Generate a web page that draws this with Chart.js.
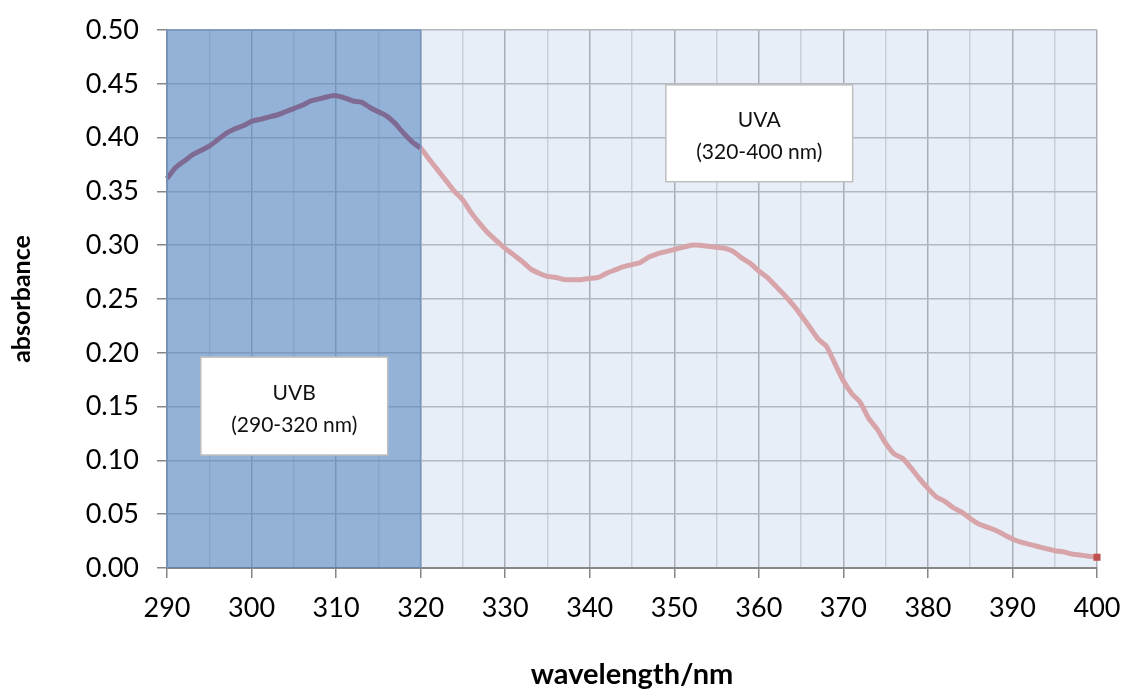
<!DOCTYPE html>
<html>
<head>
<meta charset="utf-8">
<script src="https://cdn.jsdelivr.net/npm/chart.js@4.4.1/dist/chart.umd.min.js"></script>
<style>
  html, body { margin: 0; padding: 0; background: #ffffff; }
  #wrap { width: 1125px; height: 689px; }
</style>
</head>
<body>
<div id="wrap"><canvas id="c" width="1125" height="689"></canvas></div>
<script>
// ---- data ----
const wavelengths = [290,291,292,293,294,295,296,297,298,299,300,301,302,303,304,305,306,307,308,309,310,311,312,313,314,315,316,317,318,319,320,321,322,323,324,325,326,327,328,329,330,331,332,333,334,335,336,337,338,339,340,341,342,343,344,345,346,347,348,349,350,351,352,353,354,355,356,357,358,359,360,361,362,363,364,365,366,367,368,369,370,371,372,373,374,375,376,377,378,379,380,381,382,383,384,385,386,387,388,389,390,391,392,393,394,395,396,397,398,399,400];
const absorbance = [0.362,0.372,0.378,0.384,0.388,0.392,0.398,0.404,0.408,0.411,0.415,0.417,0.419,0.421,0.424,0.427,0.430,0.434,0.436,0.438,0.439,0.437,0.434,0.433,0.428,0.424,0.420,0.413,0.404,0.396,0.390,0.380,0.370,0.360,0.350,0.342,0.330,0.320,0.311,0.304,0.297,0.291,0.285,0.278,0.274,0.271,0.270,0.268,0.268,0.268,0.269,0.270,0.274,0.277,0.280,0.282,0.284,0.289,0.292,0.294,0.296,0.298,0.300,0.300,0.299,0.298,0.297,0.294,0.288,0.283,0.276,0.270,0.262,0.254,0.245,0.235,0.224,0.213,0.206,0.190,0.174,0.162,0.154,0.139,0.129,0.116,0.106,0.102,0.093,0.083,0.074,0.066,0.062,0.056,0.052,0.046,0.041,0.038,0.035,0.031,0.027,0.024,0.022,0.020,0.018,0.016,0.015,0.013,0.012,0.011,0.010];
const uvbRange = [290, 320];
const uvaRange = [320, 400];
const bandTop = 0.5;
const uvbLabel = ["UVB", "(290-320 nm)"];
const uvaLabel = ["UVA", "(320-400 nm)"];
// label box extents in data units (x from, x to, y top, y bottom)
const uvbBox = [294, 316.1, 0.196, 0.105];
const uvaBox = [349, 371.1, 0.449, 0.359];
const xTicks = [290,300,310,320,330,340,350,360,370,380,390,400];
const yTicks = [0,0.05,0.1,0.15,0.2,0.25,0.3,0.35,0.4,0.45,0.5];

const FONT = "Lato, 'Open Sans', sans-serif";
const curvePoints = wavelengths.map((w, i) => ({x: w, y: absorbance[i]}));
const uvbPoints = [{x: uvbRange[0], y: bandTop}, {x: uvbRange[1], y: bandTop}];

const plotBg = {
  id: 'plotBg',
  beforeDraw(chart) {
    const {ctx, chartArea: a} = chart;
    ctx.save();
    ctx.fillStyle = '#E8EEF7';
    ctx.fillRect(a.left, a.top, a.right - a.left, a.bottom - a.top);
    ctx.restore();
  }
};

const bandBorder = {
  id: 'bandBorder',
  afterDatasetsDraw(chart) {
    const {ctx} = chart;
    const xs = chart.scales.x, ys = chart.scales.y;
    const l = xs.getPixelForValue(uvbRange[0]), r = xs.getPixelForValue(uvbRange[1]);
    const t = ys.getPixelForValue(bandTop), b = ys.getPixelForValue(0);
    ctx.save();
    ctx.strokeStyle = '#7594BD';
    ctx.lineWidth = 1.5;
    ctx.beginPath();
    ctx.moveTo(l, b); ctx.lineTo(l, t); ctx.lineTo(r, t); ctx.lineTo(r, b);
    ctx.stroke();
    // label boxes
    const boxes = [[uvbBox, uvbLabel], [uvaBox, uvaLabel]];
    boxes.forEach(([bx, lines]) => {
      const x0 = xs.getPixelForValue(bx[0]), x1 = xs.getPixelForValue(bx[1]);
      const y0 = ys.getPixelForValue(bx[2]), y1 = ys.getPixelForValue(bx[3]);
      ctx.fillStyle = '#FFFFFF';
      ctx.fillRect(x0, y0, x1 - x0, y1 - y0);
      ctx.strokeStyle = '#BFBFBF';
      ctx.lineWidth = 1.5;
      ctx.strokeRect(x0, y0, x1 - x0, y1 - y0);
      ctx.fillStyle = '#111111';
      ctx.font = "21px " + FONT;
      ctx.textAlign = 'center';
      ctx.textBaseline = 'middle';
      const cx = (x0 + x1) / 2, cy = (y0 + y1) / 2 + 3;
      ctx.fillText(lines[0], cx, cy - 16);
      ctx.fillText(lines[1], cx, cy + 16);
    });
    ctx.restore();
  }
};

new Chart(document.getElementById('c'), {
  type: 'line',
  data: {
    datasets: [
      {
        label: 'UVB band',
        data: uvbPoints,
        borderWidth: 0,
        borderColor: 'rgba(0,0,0,0)',
        backgroundColor: 'rgba(79,129,189,0.55)',
        fill: 'origin',
        pointRadius: 0,
        order: 2
      },
      {
        label: 'absorbance',
        data: curvePoints,
        borderWidth: 5,
        borderColor: '#D7A4AA',
        segment: {
          borderColor: c => (c.p1.parsed.x <= uvbRange[1] ? '#7E6A93' : '#D7A4AA')
        },
        tension: 0.2,
        fill: false,
        pointStyle: 'rect',
        pointRadius: c => (c.dataIndex === wavelengths.length - 1 ? 5 : 0),
        pointBackgroundColor: '#C0504D',
        pointBorderWidth: 0,
        order: 1,
        clip: 6
      }
    ]
  },
  options: {
    responsive: false,
    animation: false,
    events: [],
    layout: { padding: { top: 30, right: 28, left: 0, bottom: 0 } },
    plugins: { legend: { display: false }, tooltip: { enabled: false } },
    scales: {
      x: {
        type: 'linear',
        min: 290, max: 400,
        afterFit(s) { s.height = 121; s.paddingLeft = 0; s.paddingRight = 0; },
        afterBuildTicks(s) {
          const t = [];
          for (let v = 290; v <= 400; v += 5) t.push({value: v});
          s.ticks = t;
        },
        border: { color: '#868686', width: 2 },
        grid: {
          color: c => (xTicks.includes(c.tick.value) ? '#A9AEB4' : '#C9CFD8'),
          tickColor: c => (xTicks.includes(c.tick.value) ? '#868686' : 'rgba(0,0,0,0)'),
          lineWidth: 1.5,
          tickLength: 10,
          drawTicks: true
        },
        ticks: {
          autoSkip: false,
          maxRotation: 0,
          padding: 14,
          color: '#000000',
          font: { family: FONT, size: 27 },
          callback: v => (xTicks.includes(v) ? String(v) : '')
        },
        title: {
          display: true,
          text: 'wavelength/nm',
          color: '#000000',
          font: { family: FONT, size: 29, weight: 'bold', lineHeight: 1 },
          padding: { top: 0, bottom: 0 }
        }
      },
      y: {
        min: 0, max: 0.5,
        afterFit(s) { s.width = 167; s.paddingTop = 0; s.paddingBottom = 0; },
        afterBuildTicks(s) { s.ticks = yTicks.map(v => ({value: v})); },
        border: { color: '#868686', width: 1.5 },
        grid: {
          color: '#B3B8BF',
          tickColor: '#868686',
          lineWidth: 1.5,
          tickLength: 10
        },
        ticks: {
          padding: 18,
          color: '#000000',
          font: { family: FONT, size: 27 },
          callback: v => Number(v).toFixed(2)
        },
        title: {
          display: true,
          text: 'absorbance',
          color: '#000000',
          font: { family: FONT, size: 25, weight: 'bold', lineHeight: 1 },
          padding: { top: 9, bottom: 0 }
        }
      }
    }
  },
  plugins: [plotBg, bandBorder]
});
</script>
</body>
</html>
